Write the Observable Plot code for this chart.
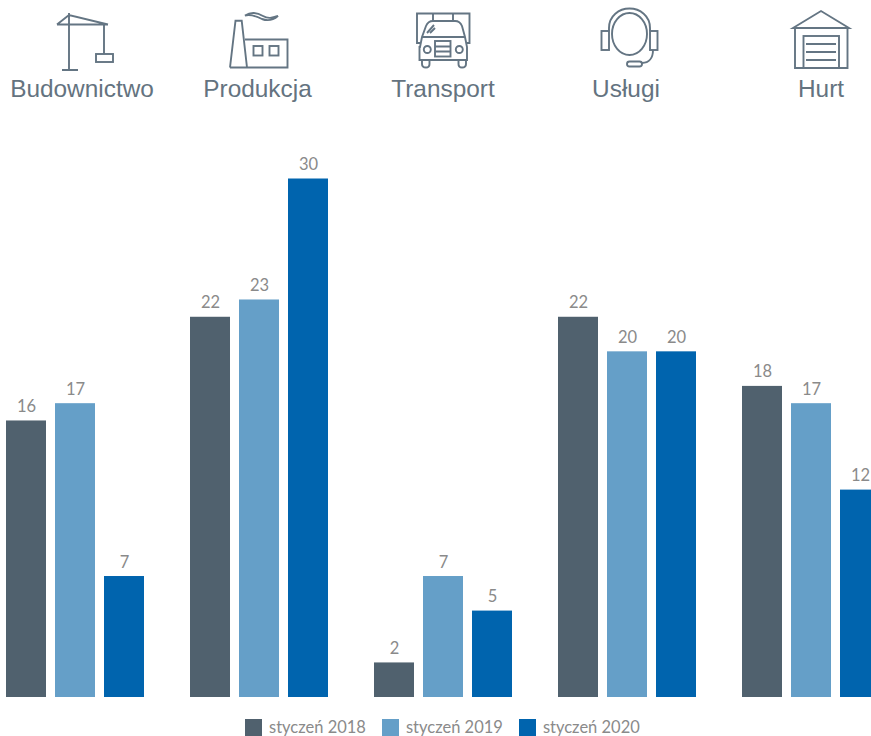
<!DOCTYPE html>
<html lang="pl">
<head>
<meta charset="utf-8">
<script src="https://cdn.jsdelivr.net/npm/d3@7"></script>
<script src="https://cdn.jsdelivr.net/npm/@observablehq/plot@0.6"></script>
<style>
  html, body { margin: 0; padding: 0; background: #fff; overflow: hidden; }
  #page { position: relative; width: 871px; height: 736px; overflow: hidden; }
  #header { position: absolute; left: 0; top: 0; }
  #chart { position: absolute; left: 0; top: 140px; }
  #legend { position: absolute; left: 245px; top: 719px; height: 17px; white-space: nowrap; }
  #legend > div { min-height: 0 !important; margin: 0 !important; height: 17px; line-height: 17px; }
  #legend span { margin-right: 16px !important; font: 16.5px/17px Lato, sans-serif; color: #8a8a8a; height: 17px; }
  #legend svg { margin-right: 7px !important; }
</style>
</head>
<body>
<div id="page">
  <svg id="header" width="871" height="120"></svg>
  <div id="chart"></div>
  <div id="legend"></div>
</div>
<script>
// Number of firms per sector in each January
const sectors = ["Budownictwo", "Produkcja", "Transport", "Usługi", "Hurt"];
const periods = ["styczeń 2018", "styczeń 2019", "styczeń 2020"];
const values2018 = [16, 22, 2, 22, 18];
const values2019 = [17, 23, 7, 20, 17];
const values2020 = [7, 30, 5, 20, 12];
const colors = ["#50616e", "#659fc8", "#0064ae"];

const rows = [values2018, values2019, values2020].flatMap((series, p) =>
  series.map((value, s) => ({sector: sectors[s], period: periods[p], value}))
);

const chart = Plot.plot({
  width: 871,
  height: 560,
  marginTop: 38,
  marginBottom: 3,
  marginLeft: 0,
  marginRight: 0,
  fx: {domain: sectors, range: [6, 880], paddingInner: 0.25, paddingOuter: 0, axis: null},
  x: {domain: periods, range: [0, 138], paddingInner: 0.184, paddingOuter: 0, axis: null},
  y: {domain: [0, 30], range: [557, 38.5], axis: null},
  color: {domain: periods, range: colors},
  style: {background: "transparent", overflow: "hidden"},
  marks: [
    Plot.barY(rows, {fx: "sector", x: "period", y: "value", fill: "period"}),
    Plot.text(rows, {
      fx: "sector", x: "period", y: "value", text: "value",
      lineAnchor: "bottom", dy: -9,
      fill: "#8a8a8a", fontSize: 16.5, fontFamily: "Lato, sans-serif"
    })
  ]
});
document.getElementById("chart").append(chart);

document.getElementById("legend").append(
  Plot.legend({color: {domain: periods, range: colors, type: "ordinal"}, swatchSize: 17, legend: "swatches"})
);

// Sector pictograms and their names across the top
const labelCenters = [82, 257.5, 443, 626, 821];
const pictograms = [
  // tower crane
  `<path d="M69 13V70M62 70H78M57 24.5H108M57 24.5L69 15L108 24.5M104 24.5V54"/><rect x="96" y="54" width="17" height="8"/>`,
  // factory with smoke
  `<path d="M230 67.5L235.5 20.7H241.7L247 67.5M230 67.5H287.500V39.500H245"/><rect x="253.500" y="46" width="9" height="9.500"/><rect x="269.500" y="46" width="9" height="9.500"/><path d="M245 15.500C252 11 258 13 263 16C268 19 272 18 278 16C272 21 267 21 262 19C256 16 251 14 245 15.500Z"/>`,
  // lorry seen from the front
  `<path d="M421 43H417V13.500H469.500V43H466M433 13.500V21M453 13.500V21"/><path d="M420 47L422 37L426 26Q428 21 433 21H455Q460 21 462 26L465 37L467 47V60H419.500V47ZM422 37H465"/><path d="M422 60V64Q422 67.500 426 67.500Q429.500 67.500 429.500 64V60M458.500 60V64Q458.500 67.500 462 67.500Q466 67.500 466 64V60"/><circle cx="427.300" cy="49.500" r="3.500"/><circle cx="459.300" cy="49.500" r="3.500"/><rect x="435" y="41" width="15.500" height="15.500"/><path d="M435 46.500H450.500M435 51.500H450.500M427 33L434 25M430 33L435 28"/>`,
  // headset
  `<ellipse cx="629.500" cy="34" rx="17.500" ry="21"/><path d="M609 31V28C609 16 619 8.500 629.500 8.500C640 8.500 650 16 650 28V31"/><rect x="601.500" y="31" width="7.500" height="19"/><rect x="650" y="31" width="7.500" height="19"/><rect x="627" y="61.500" width="15" height="5" rx="2.500"/><path d="M642 63C649 63 653 58 653 50"/>`,
  // warehouse with a roller door
  `<path d="M793 28L821 11L849 28ZM795 28V68H847.500V28"/><rect x="803.500" y="36" width="35.500" height="32"/><path d="M806 44H836M806 52H836M806 60H836"/>`
];

const header = d3.select("#header");
header.append("g")
  .attr("fill", "none")
  .attr("stroke", "#647583")
  .attr("stroke-width", 1.9)
  .html(pictograms.join(""));
header.selectAll("text")
  .data(sectors)
  .join("text")
  .attr("x", (d, i) => labelCenters[i])
  .attr("y", 97)
  .attr("text-anchor", "middle")
  .attr("fill", "#647380")
  .attr("font-family", "'Liberation Sans', Arial, sans-serif")
  .attr("font-size", 24.4)
  .text(d => d);
</script>
</body>
</html>
